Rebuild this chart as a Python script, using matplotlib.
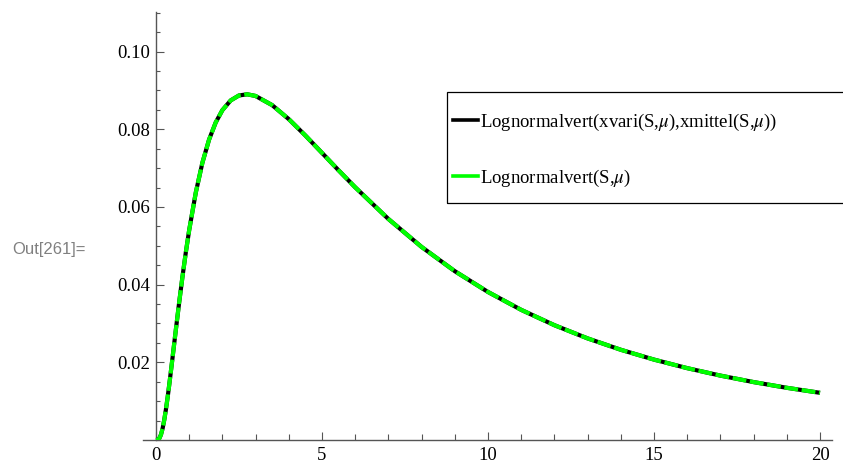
"""Lognormal density: two overlaid curves, Mathematica-style output"""
import numpy as np
import matplotlib
matplotlib.use('Agg')
import matplotlib.pyplot as plt
from matplotlib.patches import Rectangle
from matplotlib.lines import Line2D
from matplotlib.ticker import MultipleLocator

plt.rcParams['font.family'] = ['Liberation Serif', 'DejaVu Serif']
plt.rcParams['mathtext.fontset'] = 'stix'
plt.rcParams['lines.scale_dashes'] = False

# values
x_vals = [0, 0.05, 0.1, 0.15, 0.2, 0.25, 0.3, 0.35, 0.4, 0.45, 0.5, 0.6, 0.7, 0.8, 0.9,
          1.0, 1.2, 1.4, 1.6, 1.8, 2.0, 2.25, 2.5, 2.75, 3.0, 3.5, 4.0, 4.5, 5.0, 5.5,
          6, 7, 8, 9, 10, 11, 12, 13, 14, 15, 16, 17, 18, 19, 20]
density = [0.0, 0.00003, 0.0004, 0.00134, 0.00296, 0.00517, 0.00785, 0.01089, 0.01419,
           0.01767, 0.02124, 0.02844, 0.03547, 0.04213, 0.04833, 0.05399, 0.06372,
           0.07143, 0.07735, 0.08176, 0.08492, 0.08743, 0.08871, 0.08901, 0.08858,
           0.08622, 0.08262, 0.07840, 0.07393, 0.06944, 0.06507, 0.05691, 0.04971,
           0.04347, 0.03811, 0.03351, 0.02956, 0.02616, 0.02323, 0.02070, 0.01850,
           0.01658, 0.01491, 0.01344, 0.01215]

label_black = r'Lognormalvert(xvari(S,$\mu$),xmittel(S,$\mu$))'
label_green = r'Lognormalvert(S,$\mu$)'
x_ticks = [0, 5, 10, 15, 20]
y_ticks = [0.02, 0.04, 0.06, 0.08, 0.10]

W, H = 843, 465
fig = plt.figure(figsize=(W / 100, H / 100), dpi=100)
ax = fig.add_axes([143 / W, 25 / H, (832 - 143) / W, (440 - 12) / H])

axis_col = '#555555'
ax.plot(x_vals, density, color='black', lw=3.0, solid_capstyle='butt', zorder=3)
ax.plot(x_vals, density, color='#00ff00', lw=3.0, linestyle=(0, (10, 2.6)),
        dash_capstyle='butt', zorder=4)

ax.set_xlim(-0.39, 20.36)
ax.set_ylim(0, 0.1102)

for s in ['top', 'right']:
    ax.spines[s].set_visible(False)
ax.spines['left'].set_position(('data', 0))
for s in ['left', 'bottom']:
    ax.spines[s].set_color(axis_col)
    ax.spines[s].set_linewidth(1.0)

ax.set_xticks(x_ticks)
ax.set_xticklabels([str(t) for t in x_ticks])
ax.set_yticks(y_ticks)
ax.set_yticklabels(['%.2f' % t for t in y_ticks])
ax.xaxis.set_minor_locator(MultipleLocator(1))
ax.yaxis.set_minor_locator(MultipleLocator(0.005))

ax.tick_params(axis='both', which='both', direction='in', color=axis_col, width=0.8,
               labelsize=13.5)
ax.tick_params(axis='x', which='major', length=6, pad=5)
ax.tick_params(axis='x', which='minor', length=4.3)
ax.tick_params(axis='y', which='major', length=5.4, pad=4)
ax.tick_params(axis='y', which='minor', length=3)

# legend box (right side runs off the image)
fig.patches.append(Rectangle((447 / W, 1 - 203 / H), 0.6, 111 / H,
                             transform=fig.transFigure, fill=False,
                             edgecolor='black', lw=0.9, zorder=5))
handles = [Line2D([], [], color='black', lw=2.6),
           Line2D([], [], color='#00ff00', lw=2.6)]
fig.legend(handles, [label_black, label_green], loc='upper left',
           bbox_to_anchor=(452.5 / W, 1 - 112 / H), frameon=False,
           borderpad=0, borderaxespad=0, handlelength=1.35, handletextpad=0.12,
           labelspacing=1.85, fontsize=13.5)

fig.text(12 / W, 1 - 249 / H, 'Out[261]=', family='Liberation Sans', fontsize=12,
         color='#808080', va='center', ha='left')

plt.savefig('out.png', dpi=100)
plt.close()
